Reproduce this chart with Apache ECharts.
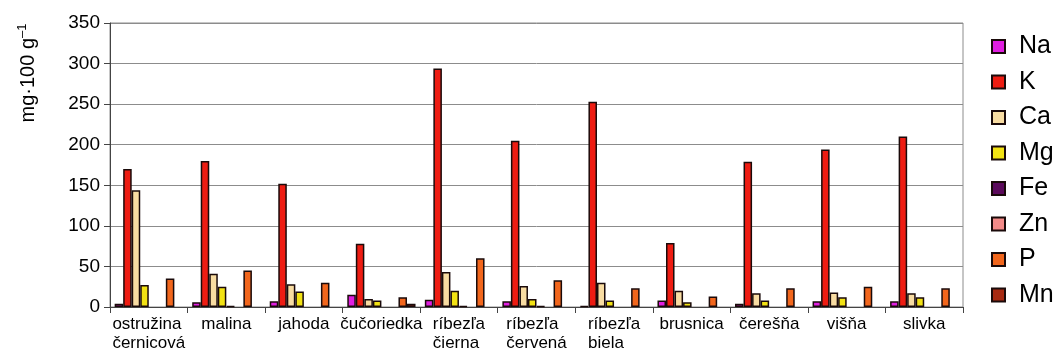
<!DOCTYPE html>
<html>
<head>
<meta charset="utf-8">
<script src="https://cdn.jsdelivr.net/npm/echarts@6/dist/echarts.min.js"></script>
<style>
  html, body { margin: 0; padding: 0; background: #fff; }
  #chart { width: 1056px; height: 356px; }
</style>
</head>
<body>
<div id="chart"></div>
<script>
// Mineral content of fruit, mg per 100 g
const categories = ['ostružina\nčernicová', 'malina', 'jahoda', 'čučoriedka', 'ríbezľa\nčierna',
  'ríbezľa\nčervená', 'ríbezľa\nbiela', 'brusnica', 'čerešňa', 'višňa', 'slivka'];
const yTicks = [0, 50, 100, 150, 200, 250, 300, 350];

const Na = [4, 6, 7, 15, 9, 7, 1, 8, 4, 7, 7];
const K  = [170, 180, 152, 78, 294, 205, 253, 79, 179, 194, 210];
const Ca = [144, 41, 28, 10, 43, 26, 30, 20, 17, 18, 17];
const Mg = [27, 25, 19, 8, 20, 10, 8, 6, 8, 12, 12];
const Fe = [0, 1, 0, 0, 1, 1, 0, 0, 0, 0, 0];
const Zn = [0, 0, 0, 0, 0, 0, 0, 0, 0, 0, 0];
const P  = [35, 45, 30, 12, 60, 33, 23, 13, 23, 25, 23];
const Mn = [0, 0, 0, 4, 0, 0, 0, 0, 0, 0, 0];

const seriesDefs = [
  ['Na', Na, '#e01ee0'],
  ['K', K, '#ee1c12'],
  ['Ca', Ca, '#f8dca2'],
  ['Mg', Mg, '#f2e214'],
  ['Fe', Fe, '#5c0a5c'],
  ['Zn', Zn, '#f48a88'],
  ['P', P, '#f2661c'],
  ['Mn', Mn, '#a82a12']
];

const font = 'Liberation Sans, Arial, sans-serif';
const chart = echarts.init(document.getElementById('chart'), null, { renderer: 'canvas' });

chart.setOption({
  animation: false,
  backgroundColor: '#fff',
  textStyle: { fontFamily: font },
  grid: {
    left: 110, right: 93, top: 23, bottom: 49,
    show: true, borderColor: '#8c8c8c', borderWidth: 1, backgroundColor: 'transparent'
  },
  legend: {
    orient: 'vertical',
    left: 986, top: 29,
    itemWidth: 13, itemHeight: 13,
    itemGap: 10.5,
    icon: 'rect',
    textStyle: { fontSize: 25, color: '#000', lineHeight: 24, padding: [0, 0, 0, 9], fontFamily: font },
    data: seriesDefs.map(d => d[0])
  },
  xAxis: {
    type: 'category',
    data: categories,
    axisLine: { lineStyle: { color: '#444', width: 1 } },
    axisTick: { show: true, length: 6, lineStyle: { color: '#444' } },
    axisLabel: {
      interval: 0,
      margin: 8,
      formatter: v => v.split('\n').map(s => '{l|' + s + '}').join('\n'),
      rich: {
        l: { fontSize: 17, lineHeight: 19, color: '#000', align: 'left', fontFamily: font }
      }
    }
  },
  yAxis: {
    type: 'value',
    min: yTicks[0],
    max: yTicks[yTicks.length - 1],
    interval: 50,
    axisLine: { show: true, lineStyle: { color: '#444', width: 1 } },
    axisTick: { show: true, length: 6, lineStyle: { color: '#444' } },
    axisLabel: { fontSize: 19, color: '#000', margin: 10, fontFamily: font },
    splitLine: { lineStyle: { color: '#8c8c8c', width: 1 } }
  },
  graphic: [{
    type: 'text',
    x: 28, y: 73,
    rotation: Math.PI / 2,
    style: {
      text: '{m|mg·100 g}{s|–1}',
      align: 'center',
      verticalAlign: 'middle',
      rich: {
        m: { fontSize: 20, fill: '#000', fontFamily: font, lineHeight: 24 },
        s: { fontSize: 13, fill: '#000', fontFamily: font, lineHeight: 24, verticalAlign: 'top', padding: [0, 0, 11, 0] }
      }
    }
  }],
  // zero amounts leave an empty slot instead of a flat outlined bar
  series: seriesDefs.map(([name, values, color]) => ({
    name,
    type: 'bar',
    data: values.map(v => (v === 0 ? '-' : v)),
    barGap: '0%',
    barCategoryGap: '12%',
    itemStyle: { color, borderColor: '#1a0a0a', borderWidth: 1.5 }
  }))
});
</script>
</body>
</html>
